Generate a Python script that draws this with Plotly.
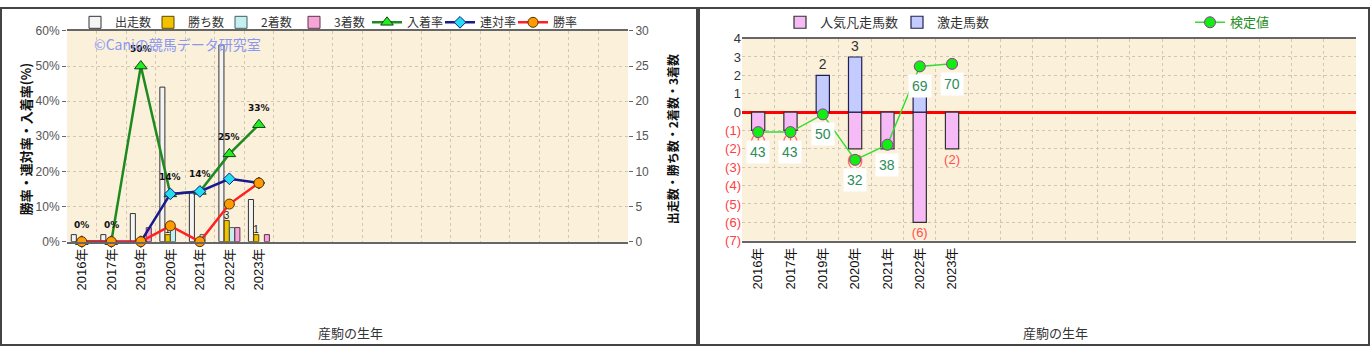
import plotly.graph_objects as go

# ---------------- data ----------------
years = ["2016年", "2017年", "2019年", "2020年", "2021年", "2022年", "2023年"]
pad = [" " * (i + 1) for i in range(12)]          # empty category slots
cats = years + pad

runs = [1, 1, 4, 22, 7, 28, 6]          # 出走数
wins = [0, 0, 0, 1, 0, 3, 1]            # 勝ち数
seconds = [0, 0, 0, 2, 1, 2, 0]         # 2着数
thirds = [0, 0, 2, 0, 0, 2, 1]          # 3着数
top3_rate = [0, 0, 50.0, 13.6, 14.3, 25.0, 33.3]   # 入着率
top2_rate = [0, 0, 0, 13.6, 14.3, 17.9, 16.7]      # 連対率
win_rate = [0, 0, 0, 4.5, 0, 10.7, 16.7]           # 勝率

popular_fail = [-1, -1, 0, -2, -2, -6, -2]   # 人気凡走馬数
upset = [0, 0, 2, 3, 0, 1, 0]                # 激走馬数
score = [43, 43, 50, 32, 38, 69, 70]         # 検定値

FONT = "Liberation Sans, Noto Sans CJK JP"
JP = "Noto Sans CJK JP"
W, H = 1371, 355


def nz(a):
    return [v if v else None for v in a]


fig = go.Figure()

# ---------------- left chart: bars (count axis y) ----------------
bar_specs = [
    ("出走数", runs, "#f4f4f4", "#333333"),
    ("勝ち数", wins, "#f2c200", "#5a4a00"),
    ("2着数", seconds, "#c6f0f0", "#406060"),
    ("3着数", thirds, "#f4a6d4", "#603050"),
]
for name, vals, col, lc in bar_specs:
    fig.add_trace(go.Bar(
        x=years, y=nz(vals), name=name, xaxis="x", yaxis="y",
        marker=dict(color=col, line=dict(color=lc, width=1)),
        text=[str(v) if (v and name == "勝ち数") else "" for v in vals],
        textposition="outside", constraintext="none",
        textfont=dict(size=10, color="#222", family=FONT),
        cliponaxis=False, legend="legend",
    ))

# ---------------- left chart: rate lines (percent axis y2) ----------------
fig.add_trace(go.Scatter(
    x=years, y=top3_rate, name="入着率", xaxis="x", yaxis="y2",
    mode="lines+markers",
    line=dict(color="#1f8a1f", width=2.5),
    marker=dict(symbol="triangle-up", size=11, color="#22ee22", line=dict(color="#114411", width=1)),
    cliponaxis=False, legend="legend",
))
fig.add_trace(go.Scatter(
    x=years, y=top2_rate, name="連対率", xaxis="x", yaxis="y2",
    mode="lines+markers",
    line=dict(color="#1a1a8c", width=2.5),
    marker=dict(symbol="diamond", size=9, color="#22ddee", line=dict(color="#1a1a8c", width=1)),
    cliponaxis=False, legend="legend",
))
fig.add_trace(go.Scatter(
    x=years, y=win_rate, name="勝率", xaxis="x", yaxis="y2",
    mode="lines+markers",
    line=dict(color="#ff2020", width=2.5),
    marker=dict(symbol="circle", size=10, color="#ff9a00", line=dict(color="#553300", width=1)),
    cliponaxis=False, legend="legend",
))

# ---------------- right chart ----------------
fig.add_trace(go.Bar(
    x=years, y=nz(popular_fail), name="人気凡走馬数", xaxis="x2", yaxis="y3",
    width=0.41, offset=-0.205,
    marker=dict(color="#f6baf6", line=dict(color="#303030", width=1.2)),
    text=[f"({abs(v)})" if v else "" for v in popular_fail], textposition="outside",
    constraintext="none",
    textfont=dict(size=13, color="#ff5050", family=FONT), cliponaxis=False,
    legend="legend2",
))
fig.add_trace(go.Bar(
    x=years, y=nz(upset), name="激走馬数", xaxis="x2", yaxis="y3",
    width=0.41, offset=-0.205,
    marker=dict(color="#c4cbff", line=dict(color="#202050", width=1.2)),
    text=[str(v) if v else "" for v in upset], textposition="outside",
    constraintext="none",
    textfont=dict(size=14, color="#333", family=FONT), cliponaxis=False,
    legend="legend2",
))
fig.add_trace(go.Scatter(
    x=years, y=score, name="検定値", xaxis="x2", yaxis="y4",
    mode="lines+markers",
    line=dict(color="#33dd33", width=1.5),
    marker=dict(symbol="circle", size=11, color="#11ee11", line=dict(color="#993399", width=1)),
    cliponaxis=False, legend="legend3",
))

annotations = []
# percent labels above 入着率 points
for yr, v in zip(years, top3_rate):
    annotations.append(dict(
        x=yr, y=v, xref="x", yref="y2", yshift=17, text=f"<b>{round(v)}%</b>", showarrow=False,
        font=dict(size=9, color="#111", family="DejaVu Sans"),
    ))
# score labels
for yr, v in zip(years, score):
    annotations.append(dict(
        x=yr, y=v, xref="x2", yref="y4", yshift=-20, text=str(v), showarrow=False,
        bgcolor="white", borderpad=3, font=dict(size=14, color="#2e8b57", family=FONT),
    ))

# titles / watermark
annotations += [
    dict(text="©Caniの競馬データ研究室", x=92 / W, y=1 - 39 / H, xref="paper", yref="paper",
         xanchor="left", yanchor="middle", showarrow=False,
         font=dict(size=14, color="#8a98f2", family=JP)),
    dict(text="<b>勝率・連対率・入着率(%)</b>", x=25 / W, y=1 - 138 / H, xref="paper", yref="paper",
         xanchor="center", yanchor="middle",
         textangle=-90, showarrow=False, font=dict(size=13, color="#111", family=JP)),
    dict(text="<b>出走数・勝ち数・2着数・3着数</b>", x=672 / W, y=1 - 138 / H, xref="paper", yref="paper",
         xanchor="center", yanchor="middle",
         textangle=-90, showarrow=False, font=dict(size=12, color="#111", family=JP)),
    dict(text="産駒の生年", x=350 / W, y=1 - 340 / H, xref="paper", yref="paper",
         xanchor="center", yanchor="middle",
         showarrow=False, font=dict(size=13, color="#333", family=JP)),
    dict(text="産駒の生年", x=1055 / W, y=1 - 340 / H, xref="paper", yref="paper",
         xanchor="center", yanchor="middle",
         showarrow=False, font=dict(size=13, color="#333", family=JP)),
]

neg_ticks = list(range(-7, 5))
ticktext = [f'<span style="color:#ff4040">({-t})</span>' if t < 0 else str(t) for t in neg_ticks]

grid = dict(gridcolor="#cfc6b4", griddash="dot", gridwidth=1)
xcommon = dict(
    type="category", categoryorder="array", categoryarray=cats,
    range=[-0.5, len(cats) - 0.5], tickson="boundaries", showgrid=True,
    tickangle=-90, tickfont=dict(size=13, color="#111", family=FONT),
    showline=True, linecolor="#666", linewidth=1.5, mirror=True, ticks="", **grid,
)

fig.update_layout(
    width=W, height=H, margin=dict(l=0, r=0, t=0, b=0),
    paper_bgcolor="white", plot_bgcolor="#fbf0da",
    font=dict(family=FONT, color="#333"),
    barmode="group", bargap=0.28, bargroupgap=0.05,
    xaxis=dict(domain=[67 / W, 628 / W], anchor="y", **xcommon),
    yaxis=dict(domain=[1 - 245 / H, 1 - 25 / H], anchor="x", side="right",
               range=[0, 30], dtick=5, showgrid=True, zeroline=False,
               tickfont=dict(size=12, color="#555"), ticks="outside", ticklen=4,
               tickcolor="#666", **grid),
    yaxis2=dict(overlaying="y", anchor="x", side="left", range=[0, 60], dtick=10,
                ticksuffix="%", showgrid=False, zeroline=False,
                tickfont=dict(size=12, color="#555"), ticks="outside", ticklen=4,
                tickcolor="#666"),
    xaxis2=dict(domain=[742 / W, 1356 / W], anchor="y3", **xcommon),
    yaxis3=dict(domain=[1 - 244 / H, 1 - 33 / H], anchor="x2", range=[-7, 4],
                tickvals=neg_ticks, ticktext=ticktext, showgrid=True,
                zeroline=True, zerolinecolor="#ff0000", zerolinewidth=3,
                tickfont=dict(size=13, color="#333"), ticks="", **grid),
    yaxis4=dict(overlaying="y3", anchor="x2", range=[0, 80], visible=False),
    legend=dict(orientation="h", x=75 / W, y=1 - 16 / H, xanchor="left", yanchor="middle",
                font=dict(size=12, color="#333", family=JP), bgcolor="rgba(0,0,0,0)",
                itemwidth=30, entrywidth=28),
    legend2=dict(orientation="h", x=780 / W, y=1 - 16 / H, xanchor="left", yanchor="middle",
                 font=dict(size=13, color="#333", family=JP), bgcolor="rgba(0,0,0,0)",
                 itemwidth=30, entrywidth=72),
    legend3=dict(orientation="h", x=1190 / W, y=1 - 16 / H, xanchor="left", yanchor="middle",
                 font=dict(size=13, color="#1f8f1f", family=JP), bgcolor="rgba(0,0,0,0)",
                 itemwidth=30),
    annotations=annotations,
    shapes=[
        dict(type="rect", xref="paper", yref="paper", x0=1 / W, x1=697 / W, y0=2 / H, y1=1 - 1 / H,
             line=dict(color="#444", width=2)),
        dict(type="rect", xref="paper", yref="paper", x0=699 / W, x1=1 - 2 / W, y0=2 / H, y1=1 - 1 / H,
             line=dict(color="#444", width=2)),
    ],
    showlegend=True,
)

fig.write_html("out.html")
